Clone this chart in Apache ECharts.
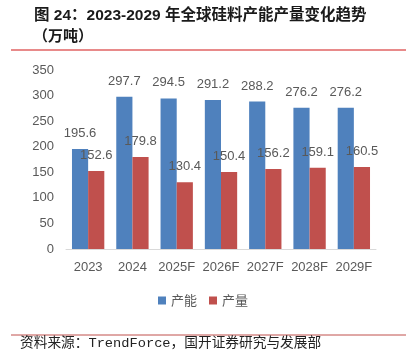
<!DOCTYPE html>
<html><head><meta charset="utf-8">
<script src="https://cdn.jsdelivr.net/npm/echarts@6/dist/echarts.min.js"></script>
<style>html,body{margin:0;padding:0;background:#fff}#c{width:406px;height:359px}</style>
</head><body><div id="c"></div>
<script>
const categories = ['2023','2024','2025F','2026F','2027F','2028F','2029F'];
const capacity = [195.6, 297.7, 294.5, 291.2, 288.2, 276.2, 276.2];
const output = [152.6, 179.8, 130.4, 150.4, 156.2, 159.1, 160.5];
const seriesNames = ['产能', '产量'];

const chart = echarts.init(document.getElementById('c'));
const labelStyle = {show: true, position: 'top', distance: 9, color: '#595959', fontSize: 13, fontFamily: 'Liberation Sans, sans-serif'};
chart.setOption({
  animation: false,
  title: [{
    text: '图 24：2023-2029 年全球硅料产能产量变化趋势',
    left: 29, top: 3,
    textStyle: {fontSize: 15.5, fontWeight: 'bold', color: '#1a1a1a', fontFamily: 'Liberation Sans, Noto Sans CJK SC'}
  }, {
    text: '（万吨）',
    left: 28, top: 23,
    textStyle: {fontSize: 15, fontWeight: 'bold', color: '#1a1a1a', fontFamily: 'Noto Sans CJK SC'}
  }],
  graphic: [
    {type: 'line', shape: {x1: 11, y1: 50, x2: 406, y2: 50}, style: {stroke: '#E88A8A', lineWidth: 2}},
    {type: 'line', shape: {x1: 11, y1: 335, x2: 406, y2: 335}, style: {stroke: '#C0504D', lineWidth: 1}},
    {type: 'text', left: 20, top: 337, style: {text: '资料来源：TrendForce，国开证券研究与发展部', fontSize: 13.7, fill: '#222', fontFamily: 'Liberation Mono, Noto Sans CJK SC'}}
  ],
  legend: {
    data: seriesNames, left: 'center', top: 289, itemWidth: 8, itemHeight: 8, itemGap: 12,
    icon: 'rect',
    textStyle: {color: '#595959', fontSize: 13, fontFamily: 'Noto Sans CJK SC'}
  },
  grid: {left: 66, right: 30, top: 70, bottom: 110},
  xAxis: {
    type: 'category', data: categories,
    axisLine: {lineStyle: {color: '#D9D9D9'}},
    axisTick: {show: false},
    axisLabel: {interval: 0, color: '#595959', fontSize: 13, margin: 12, fontFamily: 'Liberation Sans, sans-serif'}
  },
  yAxis: {
    type: 'value', min: 0, max: 350, interval: 50,
    axisLine: {show: false}, axisTick: {show: false},
    splitLine: {show: false},
    axisLabel: {color: '#595959', fontSize: 13, margin: 12, fontFamily: 'Liberation Sans, sans-serif'}
  },
  series: [
    {name: seriesNames[0], type: 'bar', data: capacity, barGap: '0%', barCategoryGap: '27%',
     itemStyle: {color: '#4F81BD'}, label: labelStyle},
    {name: seriesNames[1], type: 'bar', data: output,
     itemStyle: {color: '#C0504D'}, label: labelStyle}
  ]
});
</script></body></html>
